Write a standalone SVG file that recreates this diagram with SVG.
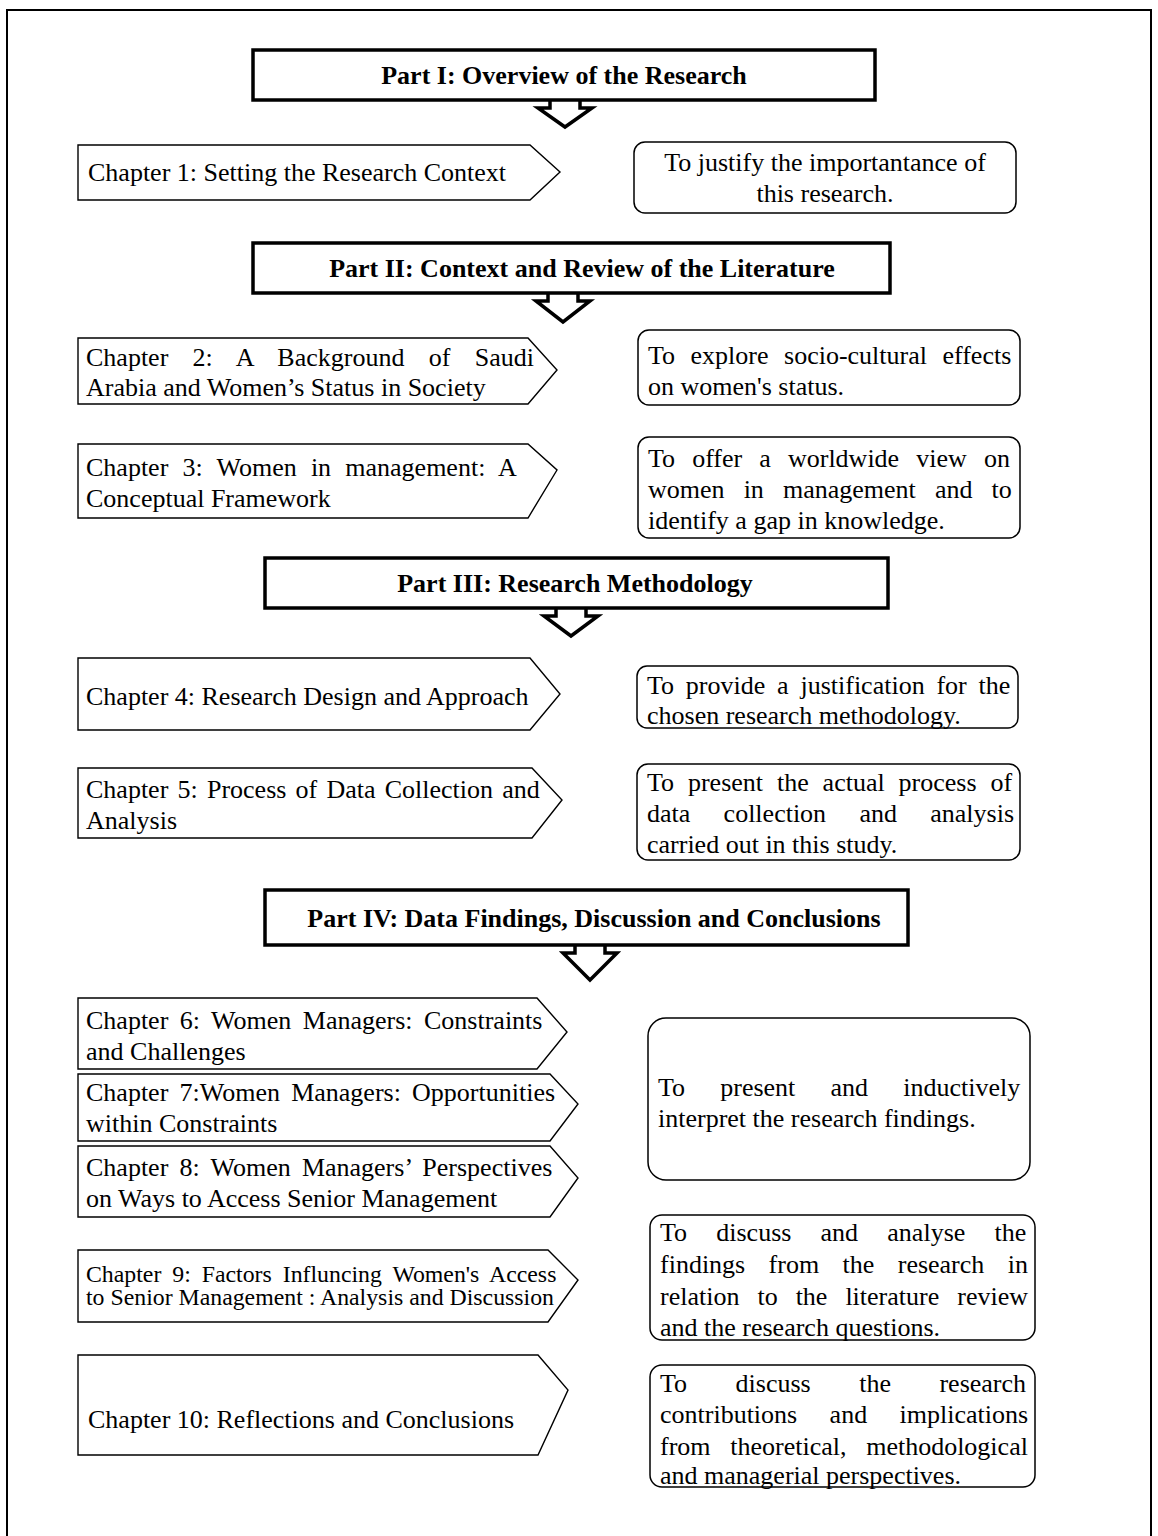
<svg xmlns="http://www.w3.org/2000/svg" width="1158" height="1536" viewBox="0 0 1158 1536">
<style>
  .t { font-family: "Liberation Serif", "Times New Roman", serif; font-size: 26px; fill: #000; }
  .s { font-family: "Liberation Serif", "Times New Roman", serif; font-size: 23.8px; fill: #000; }
  .b { font-family: "Liberation Serif", "Times New Roman", serif; font-size: 26px; font-weight: bold; fill: #000; text-anchor: middle; }
  .c { text-anchor: middle; }
  .part { fill: #fff; stroke: #000; stroke-width: 3.5; }
  .chap { fill: #fff; stroke: #000; stroke-width: 1.4; stroke-linejoin: miter; }
  .aim { fill: #fff; stroke: #000; stroke-width: 1.5; }
  .arr { fill: none; stroke: #000; stroke-width: 3.5; stroke-linejoin: miter; }
  .frame { fill: none; stroke: #000; stroke-width: 2; }
</style>
<rect width="1158" height="1536" fill="#fff"/>
<path class="frame" d="M7,1540 V10 H1151 V1540"/>

<g id="part1">
  <rect class="part" x="253" y="50" width="622" height="50"/>
  <text class="b" x="564" y="84">Part I: Overview of the Research</text>
</g>
<g id="part2">
  <rect class="part" x="253" y="243" width="637" height="50"/>
  <text class="b" x="582" y="277">Part II: Context and Review of the Literature</text>
</g>
<g id="part3">
  <rect class="part" x="265" y="558" width="623" height="50"/>
  <text class="b" x="575" y="592">Part III: Research  Methodology</text>
</g>
<g id="part4">
  <rect class="part" x="265" y="890" width="643" height="55"/>
  <text class="b" x="594" y="927">Part IV: Data Findings, Discussion and Conclusions</text>
</g>

<g id="connectors">
  <path class="arr" d="M550,100 V108 H538 L565,127 L592,108 H580 V100"/>
  <path class="arr" d="M548,293 V301 H536 L563,322 L590,301 H578 V293"/>
  <path class="arr" d="M556,608 V616 H544 L571,636 L598,616 H586 V608"/>
  <path class="arr" d="M575,945 V953 H563 L590,980 L617,953 H605 V945"/>
</g>

<g id="ch1">
  <polygon class="chap" points="78,145 530,145 560,172 530,200 78,200"/>
  <text class="t" x="88" y="181">Chapter 1: Setting the Research Context</text>
</g>
<g id="aim1">
  <rect class="aim" x="634" y="142" width="382" height="71" rx="11"/>
  <text class="t c" x="825" y="171">To justify the importantance of</text>
  <text class="t c" x="825" y="202">this  research.</text>
</g>

<g id="ch2">
  <polygon class="chap" points="78,338 528,338 557,370 528,404 78,404"/>
  <text class="t" x="86" y="366" style="word-spacing:17.8px">Chapter 2: A Background of Saudi</text>
  <text class="t" x="86" y="396">Arabia and Women’s Status in Society</text>
</g>
<g id="aim2">
  <rect class="aim" x="638" y="330" width="382" height="75" rx="11"/>
  <text class="t" x="648" y="364" style="word-spacing:9px">To explore socio-cultural effects</text>
  <text class="t" x="648" y="395">on women's status.</text>
</g>

<g id="ch3">
  <polygon class="chap" points="78,444 528,444 557,470 528,518 78,518"/>
  <text class="t" x="86" y="476" style="word-spacing:7.7px">Chapter 3: Women in management: A</text>
  <text class="t" x="86" y="507">Conceptual Framework</text>
</g>
<g id="aim3">
  <rect class="aim" x="638" y="437" width="382" height="101" rx="11"/>
  <text class="t" x="648" y="467" style="word-spacing:10.6px">To offer a worldwide view on</text>
  <text class="t" x="648" y="498" style="word-spacing:12.6px">women in management and to</text>
  <text class="t" x="648" y="529">identify a gap in knowledge.</text>
</g>

<g id="ch4">
  <polygon class="chap" points="78,658 530,658 560,694 530,730 78,730"/>
  <text class="t" x="86" y="705">Chapter 4: Research Design and Approach</text>
</g>
<g id="aim4">
  <rect class="aim" x="637" y="666" width="381" height="62" rx="10"/>
  <text class="t" x="647" y="694" style="word-spacing:5.3px">To provide a justification for the</text>
  <text class="t" x="647" y="724">chosen  research methodology.</text>
</g>

<g id="ch5">
  <polygon class="chap" points="78,768 532,768 562,800 532,838 78,838"/>
  <text class="t" x="86" y="798" style="word-spacing:2.7px">Chapter 5: Process of Data Collection and</text>
  <text class="t" x="86" y="829">Analysis</text>
</g>
<g id="aim5">
  <rect class="aim" x="637" y="764" width="383" height="96" rx="11"/>
  <text class="t" x="647" y="791" style="word-spacing:7.4px">To present the actual process of</text>
  <text class="t" x="647" y="822" style="word-spacing:26.8px">data collection and analysis</text>
  <text class="t" x="647" y="853">carried out in this study.</text>
</g>

<g id="ch6">
  <polygon class="chap" points="78,998 537,998 567,1032 537,1069 78,1069"/>
  <text class="t" x="86" y="1029" style="word-spacing:5px">Chapter 6: Women Managers: Constraints</text>
  <text class="t" x="86" y="1060">and Challenges</text>
</g>
<g id="ch7">
  <polygon class="chap" points="78,1074 550,1074 578,1104 550,1141 78,1141"/>
  <text class="t" x="86" y="1101" style="word-spacing:4.7px">Chapter 7:Women Managers: Opportunities</text>
  <text class="t" x="86" y="1132">within Constraints</text>
</g>
<g id="ch8">
  <polygon class="chap" points="78,1146 550,1146 578,1178 550,1217 78,1217"/>
  <text class="t" x="86" y="1176" style="word-spacing:4.7px">Chapter 8: Women Managers’ Perspectives</text>
  <text class="t" x="86" y="1207">on Ways to Access Senior Management</text>
</g>
<g id="aim6">
  <rect class="aim" x="648" y="1018" width="382" height="162" rx="18"/>
  <text class="t" x="658" y="1096" style="word-spacing:28.7px">To present and inductively</text>
  <text class="t" x="658" y="1127">interpret the research  findings.</text>
</g>

<g id="ch9">
  <polygon class="chap" points="78,1250 548,1250 578,1280 548,1322 78,1322"/>
  <text class="s" x="86" y="1282" style="word-spacing:5px">Chapter 9: Factors Influncing Women's Access</text>
  <text class="s" x="86" y="1305">to Senior Management : Analysis and Discussion</text>
</g>
<g id="aim7">
  <rect class="aim" x="650" y="1215" width="385" height="125" rx="12"/>
  <text class="t" x="660" y="1241" style="word-spacing:22.7px">To discuss and analyse the</text>
  <text class="t" x="660" y="1273" style="word-spacing:16.9px">findings from the research in</text>
  <text class="t" x="660" y="1305" style="word-spacing:11.5px">relation to the literature review</text>
  <text class="t" x="660" y="1336">and the research questions.</text>
</g>

<g id="ch10">
  <polygon class="chap" points="78,1355 538,1355 568,1390 538,1455 78,1455"/>
  <text class="t" x="88" y="1428">Chapter 10: Reflections and Conclusions</text>
</g>
<g id="aim8">
  <rect class="aim" x="650" y="1365" width="385" height="122" rx="12"/>
  <text class="t" x="660" y="1392" style="word-spacing:42px">To discuss the research</text>
  <text class="t" x="660" y="1423" style="word-spacing:25.9px">contributions and implications</text>
  <text class="t" x="660" y="1455" style="word-spacing:13.2px">from theoretical, methodological</text>
  <text class="t" x="660" y="1484">and managerial perspectives.</text>
</g>
</svg>
